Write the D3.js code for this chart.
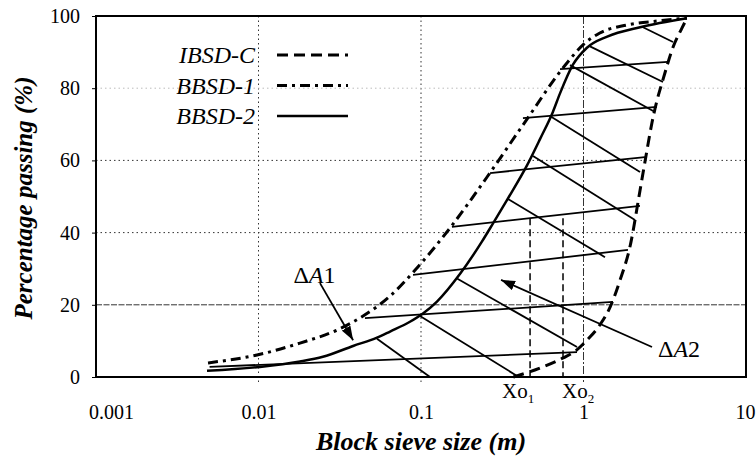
<!DOCTYPE html>
<html>
<head>
<meta charset="utf-8">
<script src="https://cdn.jsdelivr.net/npm/d3@7"></script>
<style>
  body { margin: 0; background: #fff; }
  svg { display: block; }
</style>
</head>
<body>
<script>
// block size (m), percentage passing (%)
const ibsdC = [[0.37,0],[0.54,2.5],[0.75,5.3],[0.91,7.5],[1.05,10.2],[1.26,14.4],[1.46,19.4],[1.68,26.9],
  [1.93,36],[2.23,51.8],[2.46,62.9],[2.64,70.5],[2.83,76.5],[3.08,82.3],[3.56,91.4],[4.04,96.7],[4.33,99.4]];
const bbsd1 = [[0.00489,3.9],[0.0098,6.1],[0.018,9.4],[0.0304,13],[0.044,16.9],[0.0645,22.4],[0.0945,30.2],
  [0.151,41.3],[0.255,55.4],[0.424,69.8],[0.791,87],[0.993,92],[1.26,95.3],[1.85,97.5],[2.83,98.6],[4.33,99.4]];
const bbsd2 = [[0.00482,1.7],[0.0102,2.8],[0.018,4.3],[0.0249,5.6],[0.0382,8.6],[0.0536,10.9],[0.0645,12.6],
  [0.0855,15.3],[0.1028,17.6],[0.1254,20.9],[0.174,28.6],[0.237,37.5],[0.277,42.5],[0.338,49],[0.449,58.6],
  [0.54,65.9],[0.649,73.5],[0.716,78.5],[0.861,86.5],[1.05,91.2],[1.4,94.3],[2.23,96.9],[4.33,99.4]];

// hatch lines: BBSD-1 -> IBSD-C (flat) and BBSD-2 -> IBSD-C (sloped)
const hatchFlat = [
  [[0.005,2.8],[0.912,6.9]], [[0.0452,16.3],[1.519,20.8]], [[0.0893,28.3],[1.878,35.2]],
  [[0.155,41.6],[2.227,47.4]], [[0.266,56.5],[2.39,60.9]], [[0.424,71.7],[2.834,74.8]],
  [[0.717,85.3],[3.311,87.3]]
];
const hatchSlope = [
  [[0.0536,10.6],[0.1136,0]], [[0.0986,16.9],[0.39,0.3]], [[0.1665,27.3],[0.912,8.3]],
  [[0.343,49.3],[1.356,33.2]], [[0.489,61.2],[2.074,43.5]], [[0.622,72.3],[2.227,56.8]],
  [[0.826,86.4],[2.754,73.4]], [[1.096,91.6],[3.085,81.7]], [[2.324,96.9],[3.554,92.8]]
];

const sizeTicks = [0.001, 0.01, 0.1, 1, 10];
const sizeTickLabels = ['0.001', '0.01', '0.1', '1', '10'];
const pctTicks = [0, 20, 40, 60, 80, 100];
const gridSizes = [0.01, 0.1, 1];
const gridPcts = [20, 40, 60, 80];

const legendNames = ['IBSD-C', 'BBSD-1', 'BBSD-2'];
const xoMarks = [{ name: '1', size: 0.469, top: 44 }, { name: '2', size: 0.748, top: 44 }];
const arrows = [
  { label: '1', from: [0.0239, 26.0], to: [0.0382, 10.2], at: [0.0221, 28.3], anchor: 'middle' },
  { label: '2', from: [2.64, 8.3], to: [0.311, 26.9], at: [2.874, 8.0], anchor: 'start' }
];

const W = 756, H = 460;
const FONT = '"Liberation Serif", "Times New Roman", Times, "DejaVu Serif", serif';
const x = d3.scaleLog().domain([0.001, 10]).range([96, 746]);
const y = d3.scaleLinear().domain([0, 100]).range([377, 16]);

const svg = d3.select(document.body).append('svg')
  .attr('width', W).attr('height', H)
  .style('font-family', FONT);

svg.append('defs').append('marker')
  .attr('id', 'head')
  .attr('markerUnits', 'userSpaceOnUse')
  .attr('viewBox', '0 0 14 10')
  .attr('refX', 14).attr('refY', 5)
  .attr('markerWidth', 14).attr('markerHeight', 10)
  .attr('orient', 'auto')
  .append('path').attr('d', 'M0,0L14,5L0,10Z').attr('fill', '#000');

// grid
svg.append('g').selectAll('line').data(gridSizes).enter().append('line')
  .attr('x1', d => x(d)).attr('x2', d => x(d))
  .attr('y1', y(100)).attr('y2', y(0) + 5)
  .attr('stroke', '#333').attr('stroke-width', 1)
  .attr('stroke-dasharray', (d, i) => i == 2 ? '8,2,2,2' : '1.5,3');
svg.append('g').selectAll('line').data(gridPcts).enter().append('line')
  .attr('x1', x(0.001)).attr('x2', x(10))
  .attr('y1', d => y(d)).attr('y2', d => y(d))
  .attr('stroke', d => d == 80 ? '#bbb' : '#333').attr('stroke-width', 1)
  .attr('stroke-dasharray', d => d == 20 ? '6,1.5' : '1.5,3');

// axes
const yAxis = svg.append('g')
  .attr('transform', `translate(${x(0.001)},0)`)
  .call(d3.axisLeft(y).tickValues(pctTicks).tickSize(4).tickPadding(12));
yAxis.select('.domain').remove();

const xAxis = svg.append('g')
  .attr('transform', `translate(0,${y(0)})`)
  .call(d3.axisBottom(x).tickValues(sizeTicks).tickFormat((d, i) => sizeTickLabels[i]).tickSize(0));
xAxis.select('.domain').remove();
xAxis.selectAll('text')
  .attr('dy', '0.35em').attr('y', 35)
  .attr('text-anchor', (d, i) => i == 4 ? 'end' : 'middle')
  .attr('dx', (d, i) => i == 0 ? 15 : (i == 4 ? 9 : 0));
svg.selectAll('.tick text').style('font-family', FONT).style('font-size', '20px').attr('fill', '#000');
svg.selectAll('.tick line').attr('stroke', '#000');

// frame
svg.append('rect')
  .attr('x', x(0.001)).attr('y', y(100))
  .attr('width', x(10) - x(0.001)).attr('height', y(0) - y(100))
  .attr('fill', 'none').attr('stroke', '#000').attr('stroke-width', 2);

// Xo verticals
svg.append('g').selectAll('line').data(xoMarks).enter().append('line')
  .attr('x1', d => x(d.size)).attr('x2', d => x(d.size))
  .attr('y1', d => y(d.top)).attr('y2', y(0))
  .attr('stroke', '#000').attr('stroke-width', 1.5)
  .attr('stroke-dasharray', '7,4');

// hatching
const seg = d3.line().x(d => x(d[0])).y(d => y(d[1]));
svg.append('g').selectAll('path').data(hatchFlat.concat(hatchSlope)).enter().append('path')
  .attr('d', seg).attr('fill', 'none')
  .attr('stroke', '#000').attr('stroke-width', 1.8);

// curves
const curve = d3.line().x(d => x(d[0])).y(d => y(d[1])).curve(d3.curveMonotoneX);
const styles = [
  { data: ibsdC, dash: '11,6', w: 3 },
  { data: bbsd1, dash: '10,5,3,5', w: 3 },
  { data: bbsd2, dash: null, w: 2.5 }
];
svg.append('g').selectAll('path').data(styles).enter().append('path')
  .attr('d', d => curve(d.data)).attr('fill', 'none')
  .attr('stroke', '#000').attr('stroke-width', d => d.w)
  .attr('stroke-dasharray', d => d.dash);

// legend
const leg = svg.append('g').selectAll('g').data(legendNames).enter().append('g')
  .attr('transform', (d, i) => `translate(0,${55 + i * 30.5})`);
leg.append('text')
  .attr('x', 255).attr('dy', '0.35em').attr('text-anchor', 'end')
  .style('font-size', '24px').style('font-style', 'italic')
  .text(d => d);
leg.append('line')
  .attr('x1', 277).attr('x2', 348)
  .attr('stroke', '#000').attr('stroke-width', (d, i) => i == 2 ? 2.5 : 3)
  .attr('stroke-dasharray', (d, i) => styles[i].dash);

// arrows and labels
svg.append('g').selectAll('line').data(arrows).enter().append('line')
  .attr('x1', d => x(d.from[0])).attr('y1', d => y(d.from[1]))
  .attr('x2', d => x(d.to[0])).attr('y2', d => y(d.to[1]))
  .attr('stroke', '#000').attr('stroke-width', 1.8)
  .attr('marker-end', 'url(#head)');
const lab = svg.append('g').selectAll('text').data(arrows).enter().append('text')
  .attr('x', d => x(d.at[0])).attr('y', d => y(d.at[1]))
  .attr('dy', '0.35em').attr('text-anchor', d => d.anchor)
  .style('font-size', '24px');
lab.append('tspan').text('\u0394');
lab.append('tspan').style('font-style', 'italic').text('A');
lab.append('tspan').text(d => d.label);

// Xo labels
const xo = svg.append('g').selectAll('text').data(xoMarks).enter().append('text')
  .attr('x', (d, i) => x(d.size) + (i == 0 ? -28 : -1)).attr('y', 398)
  .style('font-size', '21px');
xo.append('tspan').text('Xo');
xo.append('tspan').attr('dy', 5).style('font-size', '13px').text(d => d.name);

// axis titles
svg.append('text')
  .attr('x', 421).attr('y', 441).attr('dy', '0.35em').attr('text-anchor', 'middle')
  .style('font-size', '26px').style('font-style', 'italic').style('font-weight', 'bold')
  .text('Block sieve size (m)');
svg.append('text')
  .attr('transform', 'translate(23,198) rotate(-90)')
  .attr('dy', '0.35em').attr('text-anchor', 'middle')
  .style('font-size', '25px').style('font-style', 'italic').style('font-weight', 'bold')
  .text('Percentage passing (%)');
</script>
</body>
</html>
